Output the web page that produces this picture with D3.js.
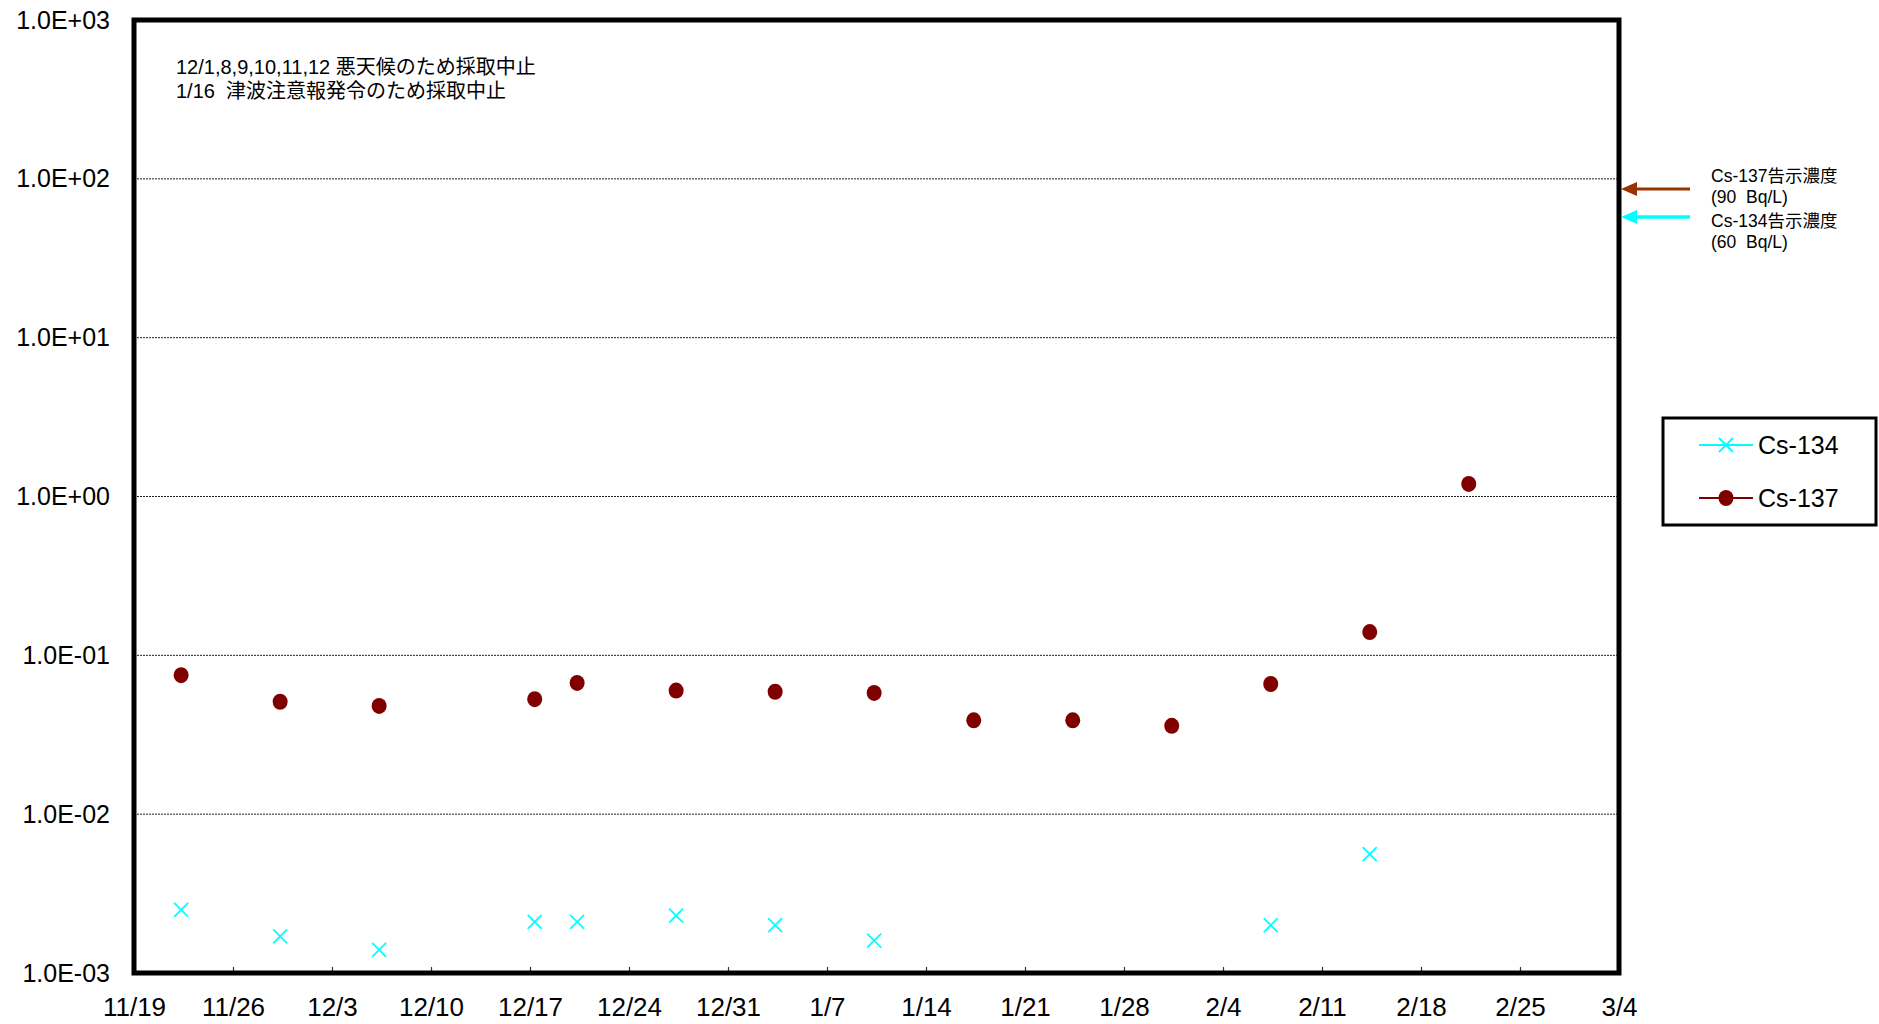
<!DOCTYPE html>
<html>
<head>
<meta charset="utf-8">
<script src="https://cdn.jsdelivr.net/npm/d3@7"></script>
<style>
  html, body { margin: 0; padding: 0; background: #fff; }
  svg { display: block; }
  text { white-space: pre; }
</style>
</head>
<body>
<svg id="chart" width="1879" height="1024"></svg>
<script>
// ---------- data ----------
const sampleDates = [
  "2021-11-22T08:00", "2021-11-29T08:00", "2021-12-06T08:00", "2021-12-17T08:00",
  "2021-12-20T08:00", "2021-12-27T08:00", "2022-01-03T08:00", "2022-01-10T08:00",
  "2022-01-17T09:00", "2022-01-24T09:00", "2022-01-31T09:00", "2022-02-07T09:00",
  "2022-02-14T09:00", "2022-02-21T09:00"
];
const cs134 = [0.0025, 0.0017, 0.0014, 0.0021, 0.0021, 0.0023, 0.0020, 0.0016,
               null, null, null, 0.0020, 0.0056, null];
const cs137 = [0.075, 0.051, 0.048, 0.053, 0.067, 0.060, 0.059, 0.058,
               0.039, 0.039, 0.036, 0.066, 0.14, 1.2];
const xTickLabels = ["11/19","11/26","12/3","12/10","12/17","12/24","12/31","1/7",
                     "1/14","1/21","1/28","2/4","2/11","2/18","2/25","3/4"];
const yTickValues = [1e-3, 1e-2, 1e-1, 1e0, 1e1, 1e2, 1e3];
const yTickLabels = ["1.0E-03","1.0E-02","1.0E-01","1.0E+00","1.0E+01","1.0E+02","1.0E+03"];
const limitValues = [90, 60];   // Cs-137, Cs-134 告示濃度 (Bq/L)
const limitLabels = [["Cs-137告示濃度", "(90  Bq/L)"], ["Cs-134告示濃度", "(60  Bq/L)"]];
const notes = ["12/1,8,9,10,11,12 悪天候のため採取中止", "1/16  津波注意報発令のため採取中止"];
const seriesNames = ["Cs-134", "Cs-137"];

// ---------- layout ----------
const L = 134, R = 1619, T = 20, B = 973;
const svg = d3.select("#chart");
const parse = d3.timeParse("%Y-%m-%dT%H:%M");
const startDate = new Date(2021, 10, 19);
const endDate = new Date(2022, 2, 4);
const x = d3.scaleTime().domain([startDate, endDate]).range([L, R]);
const y = d3.scaleLog().domain([1e-3, 1e3]).range([B, T]);

const numFont = "'Liberation Sans', Arial, sans-serif";
const mixFont = "'Liberation Sans', 'Noto Sans CJK JP', sans-serif";

// gridlines
svg.append("g").selectAll("line")
  .data(yTickValues.filter(v => v > 1e-3 && v < 1e3))
  .join("line")
  .attr("x1", L).attr("x2", R)
  .attr("y1", d => y(d)).attr("y2", d => y(d))
  .attr("stroke", "#222").attr("stroke-width", 1)
  .attr("stroke-dasharray", "2,1");

// x axis
const tickDates = d3.range(xTickLabels.length).map(i => d3.timeDay.offset(startDate, 7 * i));
const xAxis = d3.axisBottom(x)
  .tickValues(tickDates)
  .tickFormat((d, i) => xTickLabels[i])
  .tickSizeInner(-6).tickSizeOuter(0).tickPadding(25);
const gx = svg.append("g").attr("transform", `translate(0,${B})`).call(xAxis);
gx.select(".domain").remove();
gx.selectAll(".tick line").attr("stroke", "#333").attr("stroke-width", 1.2);
gx.selectAll("text").attr("font-family", numFont).attr("font-size", 26).attr("fill", "#000");

// y axis
const yAxis = d3.axisLeft(y)
  .tickValues(yTickValues)
  .tickFormat(d => yTickLabels[yTickValues.indexOf(d)])
  .tickSize(0).tickPadding(24);
const gy = svg.append("g").attr("transform", `translate(${L},0)`).call(yAxis);
gy.select(".domain").remove();
gy.selectAll("text").attr("font-family", numFont).attr("font-size", 25).attr("fill", "#000");

// data
const rows = sampleDates.map((d, i) => ({ date: parse(d), c134: cs134[i], c137: cs137[i] }));

const xMark = "M-7,-7L7,7M-7,7L7,-7";
svg.append("g").selectAll("path")
  .data(rows.filter(r => r.c134 != null))
  .join("path")
  .attr("d", xMark)
  .attr("transform", r => `translate(${x(r.date)},${y(r.c134)})`)
  .attr("stroke", "#00FFFF").attr("stroke-width", 1.8).attr("fill", "none");

svg.append("g").selectAll("ellipse")
  .data(rows.filter(r => r.c137 != null))
  .join("ellipse")
  .attr("cx", r => x(r.date)).attr("cy", r => y(r.c137))
  .attr("rx", 7.5).attr("ry", 8)
  .attr("fill", "#800000");

// plot border
svg.append("rect")
  .attr("x", L).attr("y", T).attr("width", R - L).attr("height", B - T)
  .attr("fill", "none").attr("stroke", "#000").attr("stroke-width", 5);

// notes
svg.append("g").selectAll("text")
  .data(notes).join("text")
  .attr("x", 176).attr("y", (d, i) => 74 + i * 24)
  .attr("font-family", mixFont).attr("font-size", 20).attr("fill", "#000")
  .text(d => d);

// limit arrows
const arrowColors = ["#993300", "#00FFFF"];
const ga = svg.append("g");
limitValues.forEach((v, i) => {
  const yy = y(v) + 3;
  ga.append("line").attr("x1", R + 16).attr("x2", 1690).attr("y1", yy).attr("y2", yy)
    .attr("stroke", arrowColors[i]).attr("stroke-width", i === 0 ? 3 : 3.5);
  ga.append("path")
    .attr("d", `M${R + 2},${yy}L${R + 18},${yy - 7}L${R + 18},${yy + 7}Z`)
    .attr("fill", arrowColors[i]);
});
const limitTextY = [[182, 202.5], [227, 247.5]];
limitLabels.forEach((pair, i) => {
  pair.forEach((t, j) => {
    svg.append("text").attr("x", 1711).attr("y", limitTextY[i][j])
      .attr("font-family", mixFont).attr("font-size", 17.5).attr("fill", "#000")
      .text(t);
  });
});

// legend
const lg = svg.append("g");
lg.append("rect").attr("x", 1663).attr("y", 418).attr("width", 213).attr("height", 107)
  .attr("fill", "#fff").attr("stroke", "#000").attr("stroke-width", 3);
const legendY = [445, 498];
const legendColors = ["#00FFFF", "#800000"];
seriesNames.forEach((name, i) => {
  const yy = legendY[i];
  lg.append("line").attr("x1", 1699).attr("x2", 1753).attr("y1", yy).attr("y2", yy)
    .attr("stroke", legendColors[i]).attr("stroke-width", 2);
  if (i === 0) {
    lg.append("path").attr("d", xMark).attr("transform", `translate(1726,${yy})`)
      .attr("stroke", "#00FFFF").attr("stroke-width", 1.8).attr("fill", "none");
  } else {
    lg.append("ellipse").attr("cx", 1726).attr("cy", yy).attr("rx", 7.5).attr("ry", 8)
      .attr("fill", "#800000");
  }
  lg.append("text").attr("x", 1758).attr("y", yy).attr("dy", "0.36em")
    .attr("font-family", numFont).attr("font-size", 25).attr("fill", "#000")
    .text(name);
});
</script>
</body>
</html>
